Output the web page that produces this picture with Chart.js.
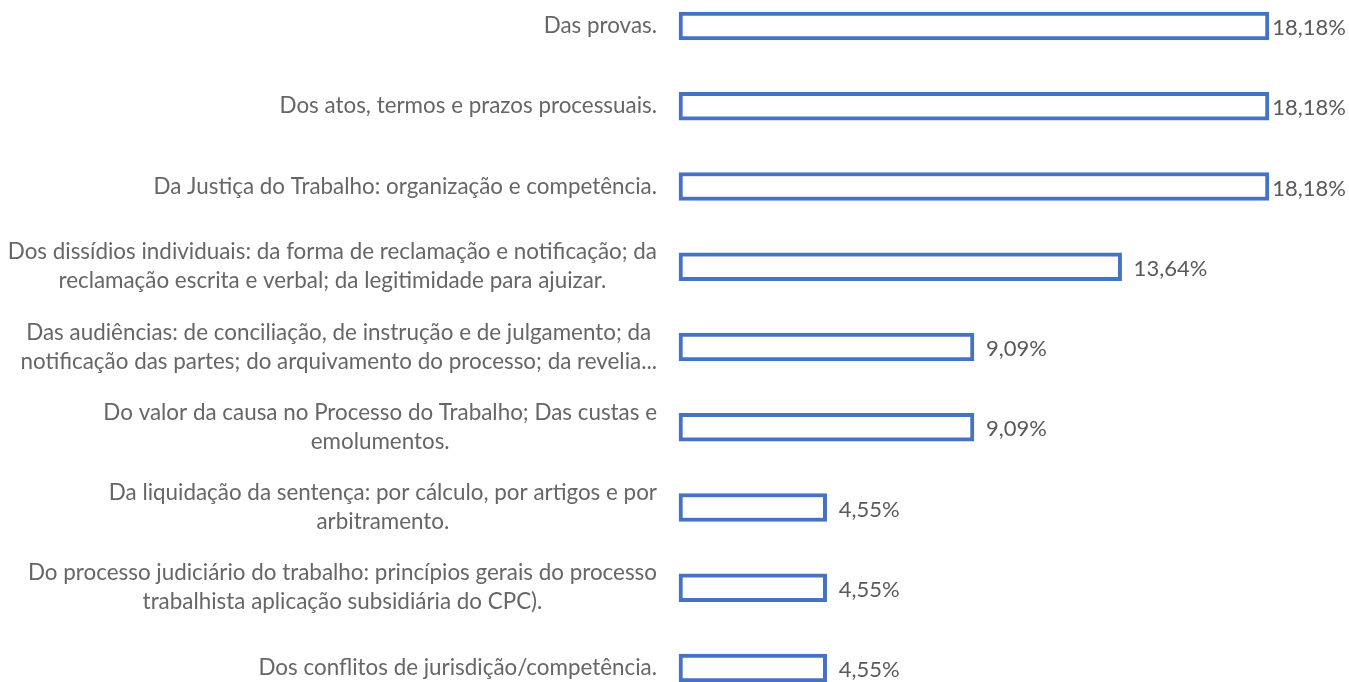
<!DOCTYPE html>
<html><head><meta charset="utf-8">
<script src="https://cdn.jsdelivr.net/npm/chart.js@4/dist/chart.umd.min.js"></script>
<style>html,body{margin:0;padding:0;background:#fff;overflow:hidden;}</style>
</head><body>
<canvas id="c" width="1349" height="682"></canvas>
<script>
const categories = [
  ["Das provas."],
  ["Dos atos, termos e prazos processuais."],
  ["Da Justiça do Trabalho: organização e competência."],
  ["Dos dissídios individuais: da forma de reclamação e notificação; da", "reclamação escrita e verbal; da legitimidade para ajuizar."],
  ["Das audiências: de conciliação, de instrução e de julgamento; da", "notificação das partes; do arquivamento do processo; da revelia..."],
  ["Do valor da causa no Processo do Trabalho; Das custas e", "emolumentos."],
  ["Da liquidação da sentença: por cálculo, por artigos e por", "arbitramento."],
  ["Do processo judiciário do trabalho: princípios gerais do processo", "trabalhista aplicação subsidiária do CPC)."],
  ["Dos conflitos de jurisdição/competência."]
];
const values = [18.18, 18.18, 18.18, 13.64, 9.09, 9.09, 4.55, 4.55, 4.55];
const valueLabels = ["18,18%", "18,18%", "18,18%", "13,64%", "9,09%", "9,09%", "4,55%", "4,55%", "4,55%"];

const CAT_FONT = '22.4px Lato';
const VAL_FONT = '22px Lato';
const LINE_H = 29;

const labelPlugin = {
  id: 'customLabels',
  afterDraw(chart) {
    const ctx = chart.ctx;
    const yScale = chart.scales.y;
    const meta = chart.getDatasetMeta(0);
    ctx.save();
    ctx.textBaseline = 'middle';
    // category labels: block right-aligned, lines centered in block
    ctx.font = CAT_FONT;
    ctx.fillStyle = '#666666';
    ctx.textAlign = 'center';
    const right = chart.chartArea.left - 22;
    categories.forEach((lines, i) => {
      const w = Math.max(...lines.map(l => ctx.measureText(l).width));
      const cx = right - w / 2;
      const yc = yScale.getPixelForValue(i);
      lines.forEach((l, j) => {
        ctx.fillText(l, cx, yc + (j - (lines.length - 1) / 2) * LINE_H);
      });
    });
    // value labels
    ctx.font = VAL_FONT;
    ctx.fillStyle = '#595959';
    ctx.textAlign = 'left';
    meta.data.forEach((bar, i) => {
      const t = valueLabels[i];
      const tw = ctx.measureText(t).width;
      const x = Math.min(bar.x + 12, chart.width - 3 - tw);
      ctx.fillText(t, x, bar.y + 2);
    });
    ctx.restore();
  }
};

function draw() {
  new Chart(document.getElementById('c'), {
    type: 'bar',
    data: {
      labels: categories.map(c => c.join(' ')),
      datasets: [{
        data: values,
        backgroundColor: '#ffffff',
        borderColor: '#4472C4',
        borderWidth: 4,
        borderSkipped: false,
        barThickness: 28,
        clip: false
      }]
    },
    options: {
      indexAxis: 'y',
      responsive: false,
      animation: false,
      layout: { padding: { left: 679, right: 21, top: 26, bottom: 14 } },
      plugins: { legend: { display: false }, tooltip: { enabled: false } },
      scales: {
        x: { display: false, min: 0, max: 20 },
        y: { display: false, offset: false }
      }
    },
    plugins: [labelPlugin]
  });
}
if (document.fonts && document.fonts.load) {
  Promise.all([document.fonts.load(CAT_FONT), document.fonts.load(VAL_FONT)]).then(draw, draw);
} else { draw(); }
</script>
</body></html>
